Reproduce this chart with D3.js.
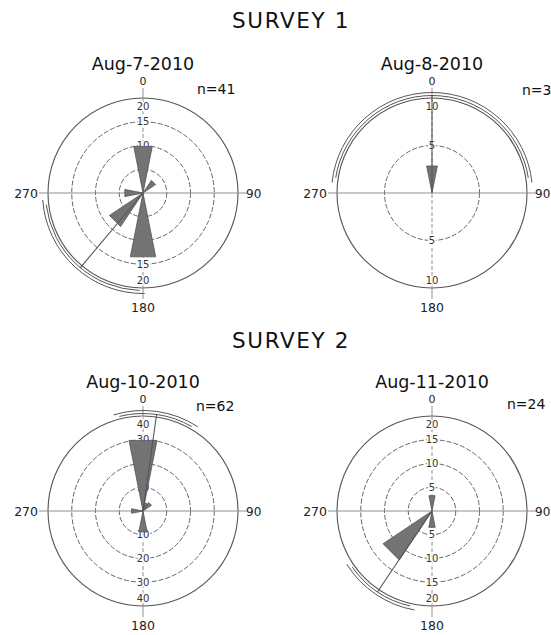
<!DOCTYPE html>
<html>
<head>
<meta charset="utf-8">
<script src="https://cdnjs.cloudflare.com/ajax/libs/d3/7.8.5/d3.min.js"></script>
<style>
  body { margin: 0; background: #fff; }
  svg { font-family: "DejaVu Sans", sans-serif; }
</style>
</head>
<body>
<div id="chart"></div>
<script>
// ---- data ----
const surveys = ["SURVEY 1", "SURVEY 2"];
const dates = ["Aug-7-2010", "Aug-8-2010", "Aug-10-2010", "Aug-11-2010"];
const counts = [41, 3, 62, 24];
const bins = [0, 22.5, 45, 67.5, 90, 112.5, 135, 157.5, 180, 202.5, 225, 247.5, 270, 292.5, 315, 337.5];
const rose_aug7  = [10, 0, 3.2, 0, 0, 0, 0, 0, 13.7, 0, 8.5, 0, 3.9, 0, 0, 0];
const rose_aug8  = [2.9, 0, 0, 0, 0, 0, 0, 0, 0, 0, 0, 0, 0, 0, 0, 0];
const rose_aug10 = [30.3, 3.5, 4.3, 0, 0, 0, 0, 0, 9, 0, 0, 0, 4.9, 0, 0, 0];
const rose_aug11 = [3.3, 0, 0, 0, 0, 0, 0, 0, 3.5, 0, 12.4, 0, 0, 0, 0, 0];
const meanDir = [220, 0, 8, 214];
const ciArcs = [[182, 263], [-81, 81], [-14, 30], [193, 235]];
const ringTicks = [[5, 10, 15, 20], [5, 10], [10, 20, 30, 40], [5, 10, 15, 20]];
const compass = ["0", "90", "180", "270"];

const roses = [rose_aug7, rose_aug8, rose_aug10, rose_aug11];

const W = 551, H = 635;
const R = 95;          // outer circle radius
const half = 11.25;    // half a bin, degrees
const layout = [
  { cx: 143, cy: 193, nx: 54, ny: -99 },
  { cx: 432, cy: 193, nx: 90, ny: -98 },
  { cx: 143, cy: 511, nx: 53, ny: -100 },
  { cx: 432, cy: 511, nx: 75, ny: -102 }
];

const rad = d => d * Math.PI / 180;

const svg = d3.select("#chart").append("svg")
  .attr("width", W).attr("height", H);

// survey headings
svg.selectAll(".survey").data(surveys).enter()
  .append("text")
  .attr("class", "survey")
  .attr("x", 291)
  .attr("y", (d, i) => i == 0 ? 28 : 348)
  .attr("text-anchor", "middle")
  .attr("font-size", 21.5)
  .attr("letter-spacing", 1.6)
  .attr("fill", "#111")
  .text(d => d);

const wedge = d3.lineRadial()
  .angle(d => rad(d[0]))
  .radius(d => d[1])
  .curve(d3.curveLinearClosed);

dates.forEach((date, i) => {
  const L = layout[i];
  const ticks = ringTicks[i];
  const maxT = d3.max(ticks);
  const r = d3.scaleLinear().domain([0, maxT]).range([0, R]);

  const g = svg.append("g").attr("transform", "translate(" + L.cx + "," + L.cy + ")");

  // outer circle + dashed rings
  g.append("circle").attr("r", r(maxT))
    .attr("fill", "none").attr("stroke", "#555").attr("stroke-width", 1.1);
  g.selectAll(".ring").data(ticks.filter(t => t < maxT)).enter()
    .append("circle")
    .attr("r", d => r(d))
    .attr("fill", "none")
    .attr("stroke", "#666")
    .attr("stroke-dasharray", "5,2");

  // axes: horizontal solid, vertical dashed inside the circle
  g.append("line").attr("x1", -104).attr("x2", 104)
    .attr("stroke", "#8f8f8f").attr("stroke-width", 1);
  g.append("line").attr("y1", -R).attr("y2", R)
    .attr("stroke", "#8f8f8f").attr("stroke-dasharray", "4,2");
  g.append("line").attr("y1", -105).attr("y2", -R)
    .attr("stroke", "#8f8f8f");
  g.append("line").attr("y1", R).attr("y2", 106)
    .attr("stroke", "#8f8f8f");

  // ring labels, top and bottom
  const labs = [];
  ticks.forEach(t => {
    const ry = t == maxT ? R - 8 : r(t);
    labs.push({ t: t, y: -ry });
    labs.push({ t: t, y: ry });
  });
  g.selectAll(".rl").data(labs).enter()
    .append("text")
    .attr("x", 0).attr("y", d => d.y)
    .attr("dy", "0.36em")
    .attr("text-anchor", "middle")
    .attr("font-size", 10)
    .attr("fill", "#333")
    .attr("stroke", "#fff").attr("stroke-width", 3)
    .attr("paint-order", "stroke")
    .text(d => d.t);

  // compass labels
  g.append("text").attr("x", 0).attr("y", -108).attr("text-anchor", "middle")
    .attr("font-size", 11).attr("fill", "#222").text(compass[0]);
  g.append("text").attr("x", 103).attr("y", 5).attr("text-anchor", "start")
    .attr("font-size", 12).attr("fill", "#222").text(compass[1]);
  g.append("text").attr("x", 0).attr("y", 119).attr("text-anchor", "middle")
    .attr("font-size", 12.5).attr("fill", "#222").text(compass[2]);
  g.append("text").attr("x", -105).attr("y", 5).attr("text-anchor", "end")
    .attr("font-size", 12.5).attr("fill", "#222").text(compass[3]);

  // petals
  const petals = bins.map((b, k) => ({ a: b, v: roses[i][k] })).filter(d => d.v > 0);
  g.selectAll(".petal").data(petals).enter()
    .append("path")
    .attr("d", d => wedge([[d.a, 0], [d.a - half, r(d.v)], [d.a + half, r(d.v)]]))
    .attr("fill", "#737373")
    .attr("stroke", "#555")
    .attr("stroke-width", 0.8);

  // mean direction
  g.append("path")
    .attr("d", d3.lineRadial()([[rad(meanDir[i]), 0], [rad(meanDir[i]), 98]]))
    .attr("stroke", "#555").attr("stroke-width", 1.1).attr("fill", "none");

  // confidence arc (double line)
  const ci = ciArcs[i];
  const arcPath = (rr, a0, a1) => {
    const p = d3.path();
    p.moveTo(rr * Math.sin(rad(a0)), -rr * Math.cos(rad(a0)));
    p.arc(0, 0, rr, rad(a0 - 90), rad(a1 - 90));
    return p.toString();
  };
  g.append("path").attr("d", arcPath(97.5, ci[0], ci[1]))
    .attr("fill", "none").attr("stroke", "#555");
  g.append("path").attr("d", arcPath(100.5, ci[0] - 3, ci[1] + 3))
    .attr("fill", "none").attr("stroke", "#555");

  // titles
  svg.append("text")
    .attr("x", L.cx).attr("y", L.cy - 123)
    .attr("text-anchor", "middle")
    .attr("font-size", 17.5)
    .attr("fill", "#111")
    .text(date);
  svg.append("text")
    .attr("x", L.cx + L.nx).attr("y", L.cy + L.ny)
    .attr("font-size", 14)
    .attr("fill", "#111")
    .text("n=" + counts[i]);
});
</script>
</body>
</html>
